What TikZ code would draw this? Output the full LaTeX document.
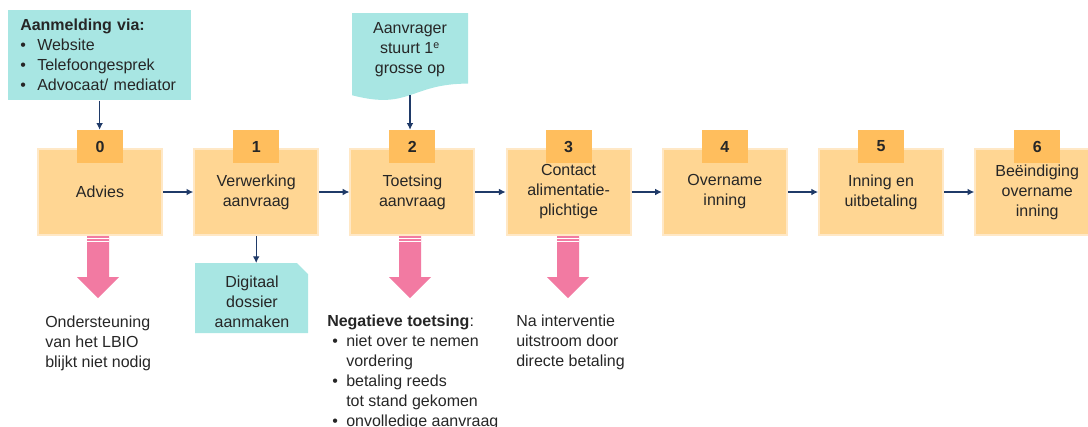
\documentclass[tikz,border=0pt]{standalone}
\usepackage{fontspec}
\setmainfont{Liberation Sans}
\usetikzlibrary{arrows.meta}
\definecolor{stapvlak}{HTML}{FFD693}
\definecolor{staprand}{HTML}{FFE8C6}
\definecolor{nummervlak}{HTML}{FFBE5D}
\definecolor{turkoois}{HTML}{A8E6E3}
\definecolor{roze}{HTML}{F27AA2}
\definecolor{pijlblauw}{HTML}{1F3A68}
\definecolor{tekst}{HTML}{262626}

\begin{document}
\begin{tikzpicture}[x=0.75pt, y=-0.75pt,
    every node/.style={text=tekst, font=\fontsize{12}{15}\selectfont},
    stap/.style={draw=staprand, line width=1.5pt, fill=stapvlak, minimum width=93pt, minimum height=64.5pt, align=center, inner sep=2pt},
    nummer/.style={fill=nummervlak, minimum width=34.5pt, minimum height=24.75pt, inner sep=0pt, font=\fontsize{12}{15}\selectfont\bfseries},
    pijl/.style={draw=pijlblauw, line width=0.8pt, -{Latex[length=5pt,width=5pt]}},
    uitleg/.style={align=left, anchor=north west, inner sep=0pt},
    afwijspijl/.pic={
        \fill[roze] (-11,236) -- (11,236) -- (11,277) -- (21,277) -- (0,298) -- (-21,277) -- (-11,277) -- cycle;
        \draw[white, line width=0.8pt] (-11,238.5) -- (11,238.5) (-11,241.5) -- (11,241.5);
    }
]
    \clip (0,0) rectangle (1088,426);

    % aanmelding
    \node[fill=turkoois, align=left, text width=119pt, inner xsep=9pt, minimum height=67.5pt, anchor=north west] (aanmelding) at (8,10)
        {\textbf{Aanmelding via:}\\
         \makebox[12.75pt][l]{\textbullet}Website\\
         \makebox[12.75pt][l]{\textbullet}Telefoongesprek\\
         \makebox[12.75pt][l]{\textbullet}Advocaat/ mediator};

    % grosse
    \fill[turkoois] (352,13) -- (468,13) -- (468,83.6) .. controls (410,83.6) and (410,110.5) .. (352,95.2) -- cycle;
    \node[align=center] (grosse) at (410,50) {Aanvrager\\stuurt 1\textsuperscript{e}\\grosse op};
    \coordinate (grossevoet) at (410,95);

    % stappen
    \node[stap] (stap0) at (100,192) {Advies};
    \node[stap] (stap1) at (256.2,192) {Verwerking\\aanvraag};
    \node[stap] (stap2) at (412.4,192) {Toetsing\\aanvraag};
    \node[stap] (stap3) at (568.6,192) {Contact\\alimentatie-\\plichtige};
    \node[stap] (stap4) at (724.8,192) {Overname\\inning};
    \node[stap] (stap5) at (881,192) {Inning en\\uitbetaling};
    \node[stap] (stap6) at (1037.2,192) {Beëindiging\\overname\\inning};

    \node[nummer] (nr0) at (100,146.5) {0};
    \node[nummer] (nr1) at (256.2,146.5) {1};
    \node[nummer] (nr2) at (412.4,146.5) {2};
    \node[nummer] (nr3) at (568.6,146.5) {3};
    \node[nummer] (nr4) at (724.8,146.5) {4};
    \node[nummer] (nr5) at (881,146.5) {5};
    \node[nummer] (nr6) at (1037.2,146.5) {6};

    \draw[pijl] (stap0) -- (stap1);
    \draw[pijl] (stap1) -- (stap2);
    \draw[pijl] (stap2) -- (stap3);
    \draw[pijl] (stap3) -- (stap4);
    \draw[pijl] (stap4) -- (stap5);
    \draw[pijl] (stap5) -- (stap6);

    \draw[pijl] (aanmelding.south) -- (aanmelding.south |- nr0.north);
    \draw[pijl] (grossevoet) -- (grossevoet |- nr2.north);

    % dossier
    \fill[turkoois] (195,263) -- (297,263) -- (308,274) -- (308,333) -- (195,333) -- cycle;
    \node[align=center] (dossier) at (252,302) {Digitaal\\dossier\\aanmaken};
    \coordinate (dossierkop) at (252,263);
    \draw[pijl] (stap1.south) -- (stap1.south |- dossierkop);

    % afwijzingen
    \pic at (98,0) {afwijspijl};
    \pic at (410,0) {afwijspijl};
    \pic at (568,0) {afwijspijl};

    \node[uitleg] (lbio) at (45,316) {Ondersteuning\\van het LBIO\\blijkt niet nodig};
    \node[uitleg] (negatief) at (327,315)
        {\textbf{Negatieve toetsing}:\\
         \hspace*{3.75pt}\makebox[10.5pt][l]{\textbullet}niet over te nemen\\
         \hspace*{14.25pt}vordering\\
         \hspace*{3.75pt}\makebox[10.5pt][l]{\textbullet}betaling reeds\\
         \hspace*{14.25pt}tot stand gekomen\\
         \hspace*{3.75pt}\makebox[10.5pt][l]{\textbullet}onvolledige aanvraag};
    \node[uitleg] (interventie) at (516,315) {Na interventie\\uitstroom door\\directe betaling};
\end{tikzpicture}
\end{document}
